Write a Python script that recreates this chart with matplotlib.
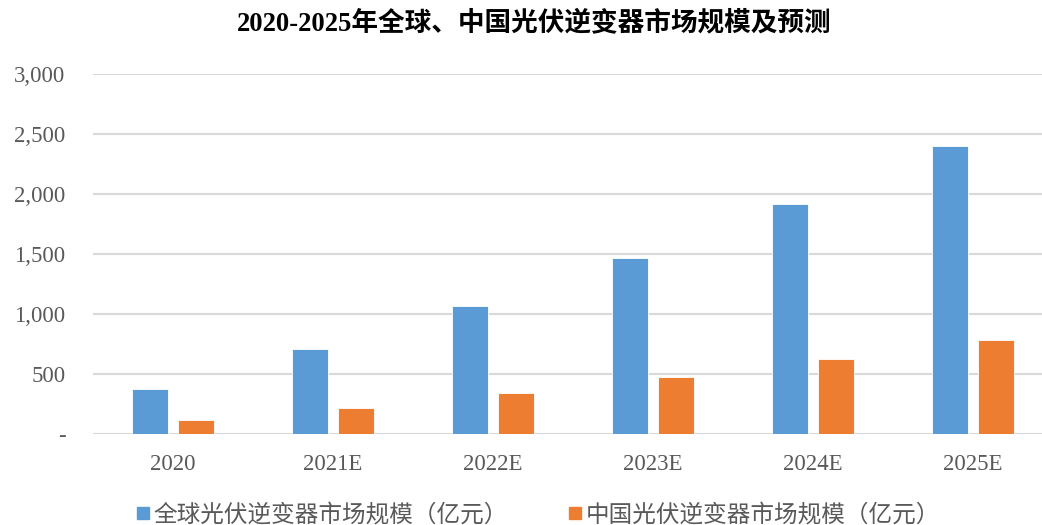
import matplotlib
matplotlib.use("Agg")
import matplotlib.pyplot as plt
from matplotlib.lines import Line2D
import numpy as np

plt.rcParams['font.family'] = ['Liberation Serif', 'Noto Sans CJK SC', 'DejaVu Sans']

title = "2020-2025年全球、中国光伏逆变器市场规模及预测"
categories = ["2020", "2021E", "2022E", "2023E", "2024E", "2025E"]
series_names = ["全球光伏逆变器市场规模（亿元）", "中国光伏逆变器市场规模（亿元）"]
global_vals = [370, 705, 1065, 1465, 1915, 2400]
china_vals = [115, 215, 340, 475, 620, 780]
yticks = [0, 500, 1000, 1500, 2000, 2500, 3000]
ytick_labels = ["-", "500", "1,000", "1,500", "2,000", "2,500", "3,000"]

blue = "#5B9BD5"
orange = "#ED7D31"
grey_text = "#595959"

fig = plt.figure(figsize=(10.42, 5.25), dpi=100)
ax = fig.add_axes([0.0888, 0.1739, 0.9219, 0.6846])

x = np.arange(len(categories))
w = 0.225
off = 0.144
ax.bar(x - off, global_vals, width=w, color=blue, edgecolor="#ffffff", linewidth=0.6, zorder=3)
ax.bar(x + off, china_vals, width=w, color=orange, edgecolor="#ffffff", linewidth=0.6, zorder=3)

ax.set_xlim(-0.5, len(categories) - 0.5)
ax.set_ylim(0, 3000)
ax.set_yticks(yticks)
ax.set_yticklabels(ytick_labels)
ax.set_xticks(x)
ax.set_xticklabels(categories)
ax.tick_params(axis='both', length=0, colors=grey_text, labelsize=16.5)
ax.tick_params(axis='y', pad=19.5)
ax.tick_params(axis='x', pad=14.5)
for s in ax.spines.values():
    s.set_visible(False)
ax.yaxis.grid(True, color="#d9d9d9", linewidth=1.5, zorder=0)
ax.set_axisbelow(True)

fig.text(0.513, 0.955, title, ha='center', va='center', fontsize=19.2, fontweight='bold', color='black')

handles = [Line2D([], [], marker='s', linestyle='none', markersize=8, color=blue),
           Line2D([], [], marker='s', linestyle='none', markersize=8, color=orange)]
leg = fig.legend(handles, series_names, loc='center', bbox_to_anchor=(0.517, 0.019), ncol=2,
                 frameon=False, fontsize=17, handlelength=0.5, handletextpad=0.2,
                 columnspacing=2.6, borderpad=0)
for t in leg.get_texts():
    t.set_color(grey_text)

fig.savefig("out.png", dpi=100)
